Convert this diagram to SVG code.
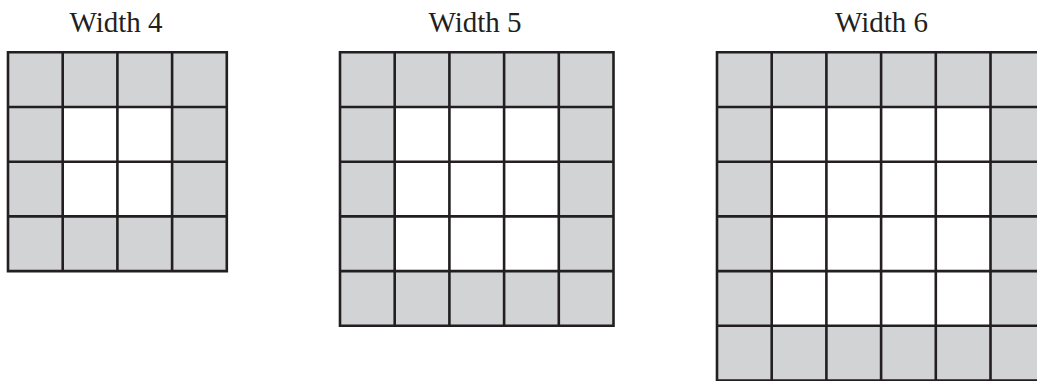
<svg xmlns="http://www.w3.org/2000/svg" width="1037" height="381" viewBox="0 0 1037 381">
<style>
.g{fill:#d1d3d4;stroke:none}
.w{fill:#ffffff;stroke:none}
.ln{stroke:#231f20;stroke-width:2.6;fill:none;stroke-linecap:square}
.t{font-family:"Liberation Serif",serif;font-size:29px;fill:#231f20;text-anchor:middle}
</style>
<rect width="1037" height="381" fill="#ffffff"/>
<g id="grid4">
<text class="t" x="116" y="32">Width 4</text>
<rect class="g" x="8" y="52.3" width="218.8" height="218.8"/>
<rect class="w" x="62.7" y="107" width="109.4" height="109.4"/>
<path class="ln" d="M8 52.3H226.8M8 107H226.8M8 161.7H226.8M8 216.4H226.8M8 271.1H226.8M8 52.3V271.1M62.7 52.3V271.1M117.4 52.3V271.1M172.1 52.3V271.1M226.8 52.3V271.1"/>
</g>
<g id="grid5">
<text class="t" x="475" y="32">Width 5</text>
<rect class="g" x="340" y="52.3" width="273.5" height="273.5"/>
<rect class="w" x="394.7" y="107" width="164.1" height="164.1"/>
<path class="ln" d="M340 52.3H613.5M340 107H613.5M340 161.7H613.5M340 216.4H613.5M340 271.1H613.5M340 325.8H613.5M340 52.3V325.8M394.7 52.3V325.8M449.4 52.3V325.8M504.1 52.3V325.8M558.8 52.3V325.8M613.5 52.3V325.8"/>
</g>
<g id="grid6">
<text class="t" x="881.5" y="32">Width 6</text>
<rect class="g" x="717" y="52.3" width="328.2" height="328.2"/>
<rect class="w" x="771.7" y="107" width="218.8" height="218.8"/>
<path class="ln" d="M717 52.3H1045.2M717 107H1045.2M717 161.7H1045.2M717 216.4H1045.2M717 271.1H1045.2M717 325.8H1045.2M717 380.5H1045.2M717 52.3V380.5M771.7 52.3V380.5M826.4 52.3V380.5M881.1 52.3V380.5M935.8 52.3V380.5M990.5 52.3V380.5"/>
</g>
</svg>
